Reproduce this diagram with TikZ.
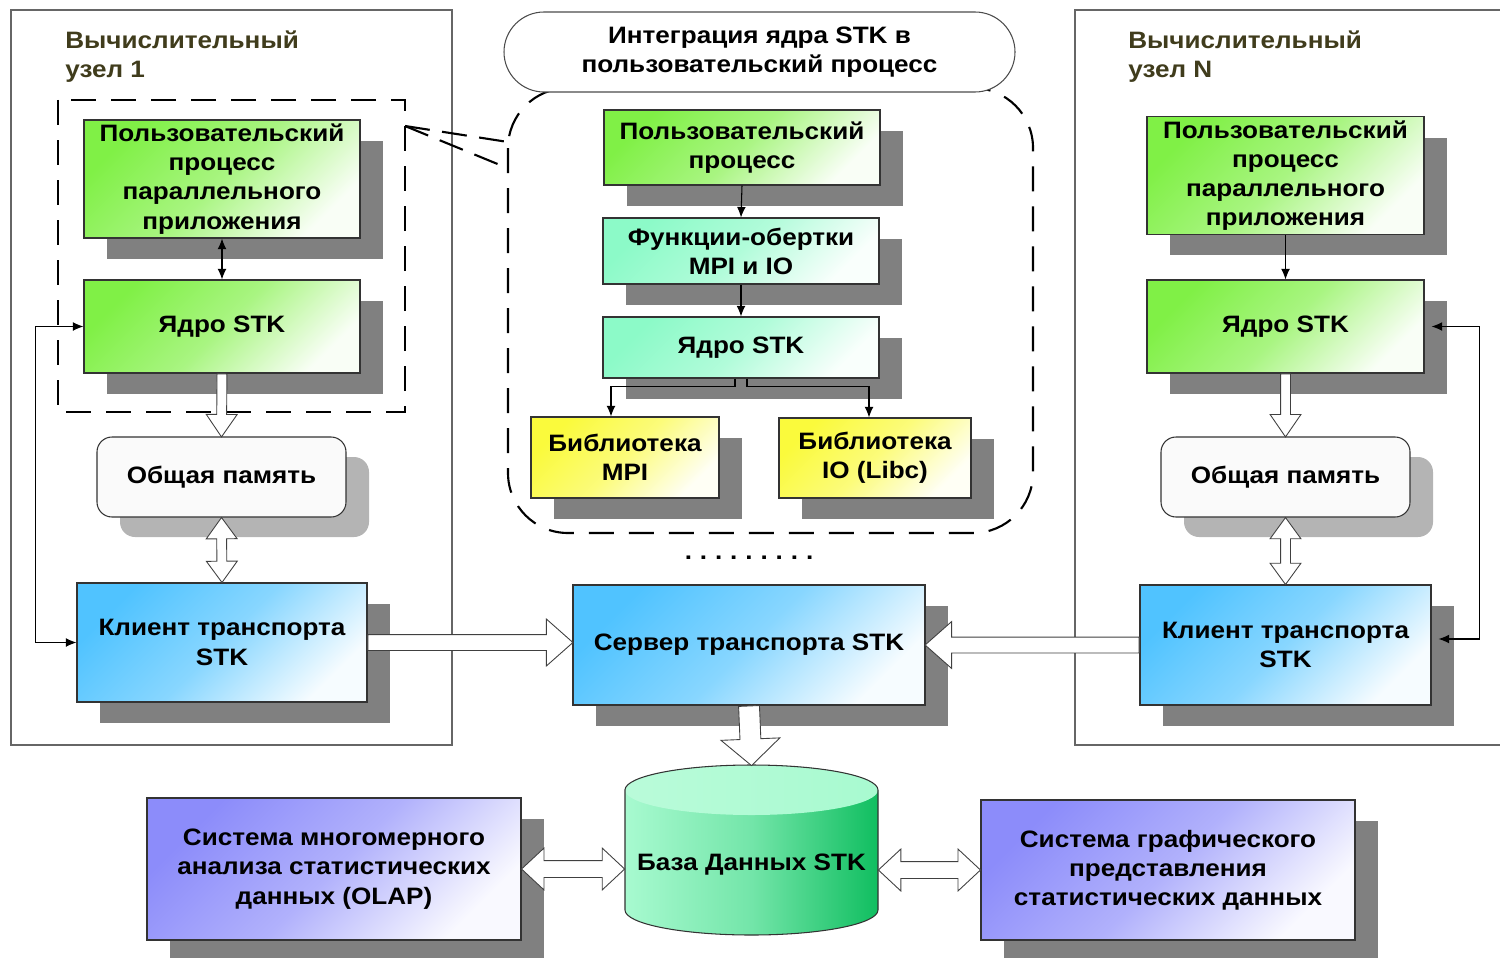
\documentclass[tikz,border=0pt]{standalone}
\usepackage{fontspec}
\setmainfont{Liberation Sans}[FakeStretch=1.1]
\usetikzlibrary{arrows.meta,calc,shadows,shapes.arrows}

\definecolor{grn}{RGB}{128,240,70}
\definecolor{mint}{RGB}{140,250,200}
\definecolor{ylw}{RGB}{250,250,60}
\definecolor{blu}{RGB}{80,195,255}
\definecolor{vio}{RGB}{140,140,250}
\definecolor{shadowgray}{RGB}{128,128,128}
\definecolor{memgray}{RGB}{180,180,180}
\definecolor{titlecol}{RGB}{64,60,28}
\definecolor{dblight}{RGB}{168,250,208}
\definecolor{dbgreen}{RGB}{16,190,96}

\newcommand\boxfont{\bfseries\fontsize{13.5}{16.6}\selectfont}

\tikzset{
  >={Latex[length=6pt,width=5pt]},
  shadowed/.style={drop shadow={shadow xshift=0.46cm,shadow yshift=-0.42cm,fill=shadowgray,opacity=1}},
  unit/.style={draw=black!80,line width=0.6pt,align=center,inner sep=2pt,font=\boxfont,shadowed},
  greenunit/.style={unit,top color=grn,bottom color=grn!5!white,middle color=grn!68!white,shading angle=45},
  mintunit/.style={unit,top color=mint,bottom color=mint!5!white,middle color=mint!68!white,shading angle=45},
  yellowunit/.style={unit,top color=ylw,bottom color=ylw!5!white,middle color=ylw!68!white,shading angle=45},
  blueunit/.style={unit,top color=blu,bottom color=blu!5!white,middle color=blu!68!white,shading angle=45},
  violetunit/.style={unit,top color=vio,bottom color=vio!5!white,middle color=vio!68!white,shading angle=45},
  memunit/.style={draw=black!80,line width=0.6pt,fill=black!2,rounded corners=0.3cm,font=\boxfont,
    drop shadow={shadow xshift=0.46cm,shadow yshift=-0.4cm,fill=memgray,opacity=1}},
  title/.style={anchor=north west,inner sep=0pt,align=left,font=\boxfont,text=titlecol},
  zone/.style={black!60,line width=0.6pt},
  dashzone/.style={line width=1.2pt,dash pattern=on 0.5cm off 0.3cm},
  link/.style={line width=0.6pt},
  hollow/.style={single arrow,draw=black!75,fill=white,line width=0.5pt,inner xsep=0pt,single arrow head indent=0pt},
  hollowdbl/.style={double arrow,draw=black!75,fill=white,line width=0.5pt,inner xsep=0pt,double arrow head indent=0pt},
  thin arr/.style={inner ysep=0.09cm,single arrow head extend=0.21cm,single arrow tip angle=69},
  thin dbl/.style={inner ysep=0.09cm,double arrow head extend=0.21cm,double arrow tip angle=72},
  wide arr/.style={inner ysep=0.15cm,single arrow head extend=0.31cm,single arrow tip angle=83},
  fat arr/.style={inner ysep=0.2cm,single arrow head extend=0.38cm,single arrow tip angle=96},
  wide dbl/.style={inner ysep=0.16cm,double arrow head extend=0.25cm,double arrow tip angle=86}
}

% block arrow from #2 to #3
\newcommand\hollowto[3][]{%
  \path let \p1=($(#3)-(#2)$), \n1={veclen(\x1,\y1)} in
    (#2) -- (#3) node[pos=0,sloped,allow upside down,anchor=tail,hollow,#1,minimum height=\n1] {};}
% block arrow with two heads
\newcommand\hollowboth[3][]{%
  \path let \p1=($(#3)-(#2)$), \n1={veclen(\x1,\y1)} in
    (#2) -- (#3) node[midway,sloped,allow upside down,hollowdbl,#1,minimum height=\n1] {};}

\begin{document}
\begin{tikzpicture}
  \useasboundingbox (0,0) rectangle (30,-19.14);

  % compute nodes
  \draw [zone] (0.22,-0.2) rectangle (9.04,-14.9);
  \draw [zone] (30.3,-0.2) -- (21.5,-0.2) -- (21.5,-14.9) -- (30.3,-14.9);
  \node [title] (ttl1) at (1.3,-0.6) {Вычислительный\\узел 1};
  \node [title] (ttlN) at (22.56,-0.6) {Вычислительный\\узел N};

  % integration area
  \draw [dashzone,rounded corners=1.2cm] (10.16,-1.76) rectangle (20.66,-10.66);
  \node [draw=black!70,line width=0.6pt,fill=white,rounded corners=0.8cm,minimum width=10.22cm,
         minimum height=1.6cm,align=center,font=\boxfont] (integ) at (15.19,-1.04)
        {Интеграция ядра STK в\\пользовательский процесс};

  \node [greenunit,minimum width=5.52cm,minimum height=2.36cm] (lproc) at (4.44,-3.58)
        {Пользовательский\\процесс\\параллельного\\приложения};
  \node [greenunit,minimum width=5.52cm,minimum height=1.86cm] (lcore) at (4.44,-6.53) {Ядро STK};
  \node [memunit,minimum width=4.98cm,minimum height=1.6cm] (lmem) at (4.43,-9.54) {Общая память};
  \node [blueunit,minimum width=5.8cm,minimum height=2.38cm] (lclient) at (4.44,-12.85)
        {Клиент транспорта\\STK};

  \node [greenunit,minimum width=5.52cm,minimum height=1.5cm] (uproc) at (14.84,-2.95)
        {Пользовательский\\процесс};
  \node [mintunit,minimum width=5.52cm,minimum height=1.32cm] (wrap) at (14.82,-5.02)
        {Функции-обертки\\MPI и IO};
  \node [mintunit,minimum width=5.52cm,minimum height=1.22cm] (mcore) at (14.82,-6.95) {Ядро STK};
  \node [yellowunit,minimum width=3.76cm,minimum height=1.62cm] (libmpi) at (12.5,-9.15)
        {Библиотека\\MPI};
  \node [yellowunit,minimum width=3.84cm,minimum height=1.6cm] (libio) at (17.5,-9.16)
        {Библиотека\\IO (Libc)};
  \node [anchor=base,font=\boxfont] (dots) at (14.98,-11.18) {.\,\,.\,\,.\,\,.\,\,.\,\,.\,\,.\,\,.\,\,.};
  \node [blueunit,minimum width=7.04cm,minimum height=2.4cm] (server) at (14.98,-12.9)
        {Сервер транспорта STK};

  \node [greenunit,minimum width=5.54cm,minimum height=2.34cm] (rproc) at (25.71,-3.51)
        {Пользовательский\\процесс\\параллельного\\приложения};
  \node [greenunit,minimum width=5.54cm,minimum height=1.86cm] (rcore) at (25.71,-6.53) {Ядро STK};
  \node [memunit,minimum width=4.98cm,minimum height=1.6cm] (rmem) at (25.71,-9.54) {Общая память};
  \node [blueunit,minimum width=5.82cm,minimum height=2.4cm] (rclient) at (25.71,-12.9)
        {Клиент транспорта\\STK};

  % data base
  \shade [left color=dblight,right color=dbgreen,middle color=dblight!65!dbgreen]
    (12.5,-15.8) -- (12.5,-18.2) arc [start angle=180,end angle=360,x radius=2.53,y radius=0.5]
    -- (17.56,-15.8) arc [start angle=0,end angle=180,x radius=2.53,y radius=0.5] -- cycle;
  \shade [left color=dblight!80!white,right color=dblight] (15.03,-15.8) ellipse [x radius=2.53,y radius=0.5];
  \draw [line width=0.6pt,black!80]
    (12.5,-15.8) -- (12.5,-18.2) arc [start angle=180,end angle=360,x radius=2.53,y radius=0.5]
    -- (17.56,-15.8) arc [start angle=0,end angle=180,x radius=2.53,y radius=0.5] -- cycle;
  \node [font=\boxfont,minimum width=5.06cm,minimum height=2.9cm] (db) at (15.03,-17.3) {База Данных STK};

  \node [violetunit,minimum width=7.48cm,minimum height=2.84cm] (olap) at (6.68,-17.38)
        {Система многомерного\\анализа статистических\\данных (OLAP)};
  \node [violetunit,minimum width=7.48cm,minimum height=2.8cm] (graph) at (23.36,-17.4)
        {Система графического\\представления\\статистических данных};

  % dashed frame of the user process
  \draw [dashzone] (1.16,-2.0) rectangle (8.1,-8.24);
  \coordinate (callout) at (8.1,-2.52);
  \draw [dashzone,dash pattern=on 0.5cm off 0.25cm] (callout) -- (10.16,-2.84);
  \draw [dashzone,dash pattern=on 0.5cm off 0.25cm] (callout) -- (10.0,-3.3);

  % thin links
  \draw [link,<->] (lproc.south) -- (lcore.north);
  \draw [link,<->] (lcore.west) -- ++(-0.96,0) |- (lclient.west);
  \draw [link,->] (uproc.south) -- (wrap.north);
  \draw [link,->] (wrap.south) -- (mcore.north);
  \draw [link,->] ([xshift=-0.12cm]mcore.south) -- ++(0,-0.16) -| ([xshift=-0.28cm]libmpi.north);
  \draw [link,->] ([xshift=0.12cm]mcore.south) -- ++(0,-0.16) -| ([xshift=-0.12cm]libio.north);
  \draw [link,->] (rproc.south) -- (rcore.north);
  \draw [link,<->] ([xshift=0.14cm]rcore.east) -- ++(0.96,0) |- ([xshift=0.14cm,yshift=0.12cm]rclient.east);

  % block arrows
  \hollowto[thin arr]{lcore.south}{lmem.north}
  \hollowboth[thin dbl]{lmem.south}{lclient.north}
  \hollowto[thin arr]{rcore.south}{rmem.north}
  \hollowboth[thin dbl]{rmem.south}{rclient.north}
  \hollowto[wide arr]{lclient.east}{lclient.east -| server.west}
  \hollowto[wide arr]{rclient.west}{rclient.west -| server.east}
  \hollowto[fat arr]{server.south}{[yshift=0.54cm]db.north}
  \hollowboth[wide dbl]{olap.east}{olap.east -| db.west}
  \hollowboth[wide dbl]{graph.west -| db.east}{graph.west}
\end{tikzpicture}
\end{document}
